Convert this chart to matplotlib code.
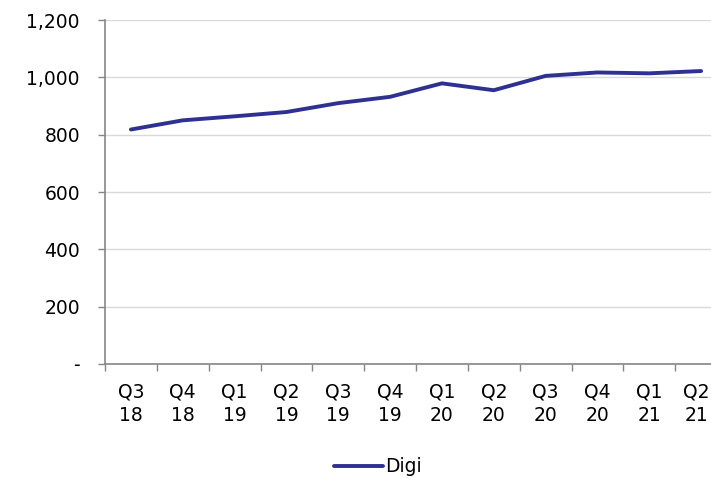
import matplotlib
matplotlib.use("Agg")
import matplotlib.pyplot as plt
from matplotlib.transforms import ScaledTranslation
import numpy as np

quarters = ["Q3\n18", "Q4\n18", "Q1\n19", "Q2\n19", "Q3\n19", "Q4\n19",
            "Q1\n20", "Q2\n20", "Q3\n20", "Q4\n20", "Q1\n21", "Q2\n21"]
digi = [818, 850, 864, 879, 910, 932, 979, 955, 1005, 1017, 1014, 1022]
y_ticks = [0, 200, 400, 600, 800, 1000, 1200]
y_labels = ["-", "200", "400", "600", "800", "1,000", "1,200"]

plt.rcParams["font.family"] = ["DejaVu Sans"]
FS = 13.5

W, H = 711, 479
fig = plt.figure(figsize=(W / 100, H / 100), dpi=100)
left, right, top, bottom = 105, 727, 20, 364
ax = fig.add_axes([left / W, 1 - bottom / H, (right - left) / W, (bottom - top) / H])

x = np.arange(len(quarters))
ax.plot(x, digi, color="#2E3192", lw=2.8, solid_capstyle="round", label="Digi", zorder=3)

ax.set_xlim(-0.5, len(quarters) - 0.5)
ax.set_ylim(0, 1200)
ax.set_yticks(y_ticks)
ax.set_yticklabels(y_labels, fontsize=FS)
ax.yaxis.grid(True, color="#d9d9d9", lw=1)
ax.set_axisbelow(True)

# the zero label is a dash set in from the other labels (accounting style)
zero_lbl = ax.get_yticklabels()[0]
zero_lbl.set_transform(zero_lbl.get_transform() + ScaledTranslation(-16 / 100, 0, fig.dpi_scale_trans))

# category labels centred, tick marks on category boundaries
ax.set_xticks(np.arange(-0.5, len(quarters), 1))
ax.set_xticklabels([])
ax.set_xticks(x, minor=True)
ax.set_xticklabels(quarters, minor=True, fontsize=FS, linespacing=1.35)
ax.tick_params(axis="x", which="minor", length=0, pad=13)
ax.tick_params(axis="x", which="major", length=5, color="#868686", width=1)
ax.tick_params(axis="y", length=5, color="#868686", width=1, pad=13)

# keep the last category label inside the figure edge
last_lbl = ax.get_xticklabels(minor=True)[-1]
last_lbl.set_transform(last_lbl.get_transform() + ScaledTranslation(-5 / 100, 0, fig.dpi_scale_trans))

for s in ["top", "right"]:
    ax.spines[s].set_visible(False)
for s in ["left", "bottom"]:
    ax.spines[s].set_color("#868686")
    ax.spines[s].set_linewidth(1.2)

fig.legend(loc="center", bbox_to_anchor=(378 / W, 1 - 467 / H), frameon=False,
           fontsize=FS, handlelength=2.6, handletextpad=0.1)

fig.savefig("out.png", dpi=100)
